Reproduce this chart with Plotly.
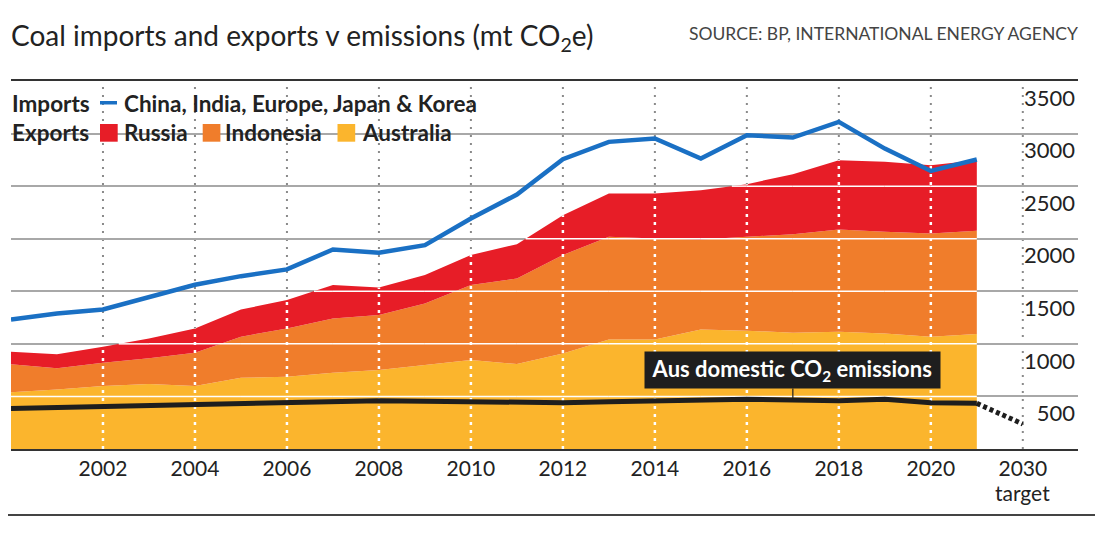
import plotly.graph_objects as go

# values (mt CO2e)
years = list(range(2000, 2022))
imports_total = [1232, 1289, 1327, 1448, 1562, 1644, 1708, 1898, 1866, 1939, 2192,
                 2420, 2756, 2921, 2953, 2762, 2984, 2962, 3111, 2857, 2645, 2753]
exports_australia = [539, 567, 599, 618, 599, 678, 687, 725, 751, 798, 846,
                     808, 909, 1042, 1042, 1137, 1125, 1106, 1115, 1099, 1068, 1093]
exports_indonesia = [266, 200, 222, 244, 317, 390, 460, 517, 523, 586, 713,
                     814, 935, 976, 960, 856, 893, 937, 973, 967, 982, 982]
exports_russia = [120, 133, 152, 190, 231, 259, 269, 317, 262, 270, 285,
                  326, 380, 412, 428, 468, 501, 571, 659, 665, 649, 672]
aus_emissions = [386, 394, 402, 415, 428, 434, 444, 452, 459, 455, 450,
                 445, 440, 450, 459, 466, 472, 466, 459, 472, 440, 434]
target_label = '2030'
target_note = 'target'
target_emissions = 238

x_ticks = list(range(2002, 2021, 2))
y_ticks = [500, 1000, 1500, 2000, 2500, 3000, 3500]

RED = '#e71d27'
ORANGE = '#f07d2b'
YELLOW = '#fbb52d'
BLUE = '#1a70c4'
INK = '#1e1e1e'
GRID = '#a8a8a8'
FONT = 'Lato'

W, H = 1098, 530          # page adds an 8px body margin
ML, MR, MT, MB = 3, 28, 73, 89
PW, PH = W - ML - MR, H - MT - MB


def px(x):
    # page pixel -> paper x
    return (x - 8 - ML) / PW


def py(y):
    # page pixel -> paper y
    return (H - MB - (y - 8)) / PH


# the 2030 target sits one slot after the last year
target_pos = years[-1] + 1

stack_top = [a + i + r for a, i, r in zip(exports_australia, exports_indonesia, exports_russia)]


def white_segments(xs, tops, level):
    # parts of a horizontal gridline that lie over the filled area
    gx, gy = [], []
    for k in range(len(xs) - 1):
        x0, x1, t0, t1 = xs[k], xs[k + 1], tops[k], tops[k + 1]
        if t0 >= level and t1 >= level:
            a, b = x0, x1
        elif t0 >= level > t1:
            a, b = x0, x0 + (t0 - level) / (t0 - t1) * (x1 - x0)
        elif t0 < level <= t1:
            a, b = x0 + (level - t0) / (t1 - t0) * (x1 - x0), x1
        else:
            continue
        gx += [a, b, None]
        gy += [level, level, None]
    return gx, gy


fig = go.Figure()

fig.add_trace(go.Scatter(x=years, y=exports_australia, stackgroup='exp', mode='none',
                         fillcolor=YELLOW, name='Australia', hoverinfo='skip'))
fig.add_trace(go.Scatter(x=years, y=exports_indonesia, stackgroup='exp', mode='none',
                         fillcolor=ORANGE, name='Indonesia', hoverinfo='skip'))
fig.add_trace(go.Scatter(x=years, y=exports_russia, stackgroup='exp', mode='none',
                         fillcolor=RED, name='Russia', hoverinfo='skip'))

# white gridlines over the fill
hx, hy = [], []
for v in y_ticks[:-1]:
    gx, gy = white_segments(years, stack_top, v)
    hx += gx
    hy += gy
fig.add_trace(go.Scatter(x=hx, y=hy, mode='lines', line=dict(color='white', width=1.5),
                         hoverinfo='skip', showlegend=False))

# white dotted verticals over the fill
vx, vy = [], []
for yr in x_ticks:
    vx += [yr, yr, None]
    vy += [0, stack_top[years.index(yr)], None]
fig.add_trace(go.Scatter(x=vx, y=vy, mode='lines',
                         line=dict(color='white', width=2.5, dash='3px,5px'),
                         hoverinfo='skip', showlegend=False))

fig.add_trace(go.Scatter(x=years, y=aus_emissions, mode='lines',
                         line=dict(color=INK, width=5), name='Aus domestic emissions'))
fig.add_trace(go.Scatter(x=[years[-1], target_pos], y=[aus_emissions[-1], target_emissions],
                         mode='lines', line=dict(color=INK, width=5, dash='4px,3px'),
                         name='2030 target'))
fig.add_trace(go.Scatter(x=years, y=imports_total, mode='lines',
                         line=dict(color=BLUE, width=4.5), name='Imports'))

# grey dotted verticals (hidden under the fill)
for xv in x_ticks + [target_pos]:
    fig.add_shape(type='line', xref='x', yref='y', x0=xv, x1=xv, y0=0, y1=3500,
                  layer='below', line=dict(color='#8a8a8a', width=2, dash='2px,6px'))

# white patches behind the legend rows
fig.add_shape(type='rect', xref='paper', yref='paper', x0=px(0), x1=px(484), y0=py(84), y1=py(119),
              layer='between', fillcolor='white', line=dict(width=0))
fig.add_shape(type='rect', xref='paper', yref='paper', x0=px(0), x1=px(464), y0=py(118), y1=py(158),
              layer='between', fillcolor='white', line=dict(width=0))

# legend keys
fig.add_shape(type='rect', xref='paper', yref='paper', x0=px(100), x1=px(117), y0=py(101), y1=py(104.5),
              fillcolor=BLUE, line=dict(width=0))
for x0, col in [(100, RED), (202.7, ORANGE), (337.5, YELLOW)]:
    fig.add_shape(type='rect', xref='paper', yref='paper', x0=px(x0), x1=px(x0 + 17.7),
                  y0=py(124), y1=py(141.7), fillcolor=col, line=dict(width=0))

# bottom rule
fig.add_shape(type='line', xref='paper', yref='paper', x0=px(0), x1=px(1095),
              y0=py(515), y1=py(515), line=dict(color='#444', width=2))

legend_font = dict(family=FONT, size=22.5, color='#222')
annotations = [
    dict(text='Coal imports and exports v emissions (mt CO<sub>2</sub>e)',
         xref='paper', yref='paper', x=px(9), y=py(37), xanchor='left', yanchor='middle',
         showarrow=False, font=dict(family=FONT, size=28, color='#222')),
    dict(text='SOURCE: BP, INTERNATIONAL ENERGY AGENCY',
         xref='paper', yref='paper', x=px(1080), y=py(33), xanchor='right', yanchor='middle',
         showarrow=False, font=dict(family=FONT, size=17.5, color='#444')),
    dict(text=target_note, x=target_pos, xref='x', yref='paper', y=py(492),
         xanchor='center', yanchor='middle', showarrow=False,
         font=dict(family=FONT, size=21, color='#222')),
]
for label, x0, y0 in [('Imports', 10, 103), ('China, India, Europe, Japan &amp; Korea', 121.5, 103),
                      ('Exports', 10, 133), ('Russia', 121.5, 133), ('Indonesia', 223, 133),
                      ('Australia', 359.5, 133)]:
    annotations.append(dict(text='<b>%s</b>' % label, xref='paper', yref='paper',
                            x=px(x0), y=py(y0), xanchor='left', yanchor='middle',
                            showarrow=False, font=legend_font))
annotations.append(dict(text='<b> Aus domestic CO<sub>2</sub> emissions </b>',
                        x=2017, y=aus_emissions[years.index(2017)], xref='x', yref='y',
                        ax=0, ay=-30, showarrow=True, arrowhead=0, arrowwidth=1.2,
                        arrowcolor=INK, bgcolor=INK, borderpad=3,
                        font=dict(family=FONT, size=22, color='white')))

fig.update_layout(
    width=W, height=H,
    margin=dict(l=ML, r=MR, t=MT, b=MB),
    paper_bgcolor='white', plot_bgcolor='white',
    showlegend=False,
    annotations=annotations,
    font=dict(family=FONT, color='#222'),
    xaxis=dict(range=[2000, 2023.2], tickvals=x_ticks + [target_pos],
               ticktext=[str(t) for t in x_ticks] + [target_label],
               showgrid=False, zeroline=False, ticks='',
               showline=True, mirror=True, linecolor='#333', linewidth=2,
               tickfont=dict(family=FONT, size=21, color='#222')),
    yaxis=dict(range=[0, 3500], tickvals=y_ticks, side='right',
               ticklabelposition='inside', ticklabelshift=17, showgrid=True, gridcolor=GRID,
               gridwidth=1.5, zeroline=False, ticks='', showline=False,
               tickfont=dict(family=FONT, size=22, color='#222')),
)

fig.write_html('out.html')
